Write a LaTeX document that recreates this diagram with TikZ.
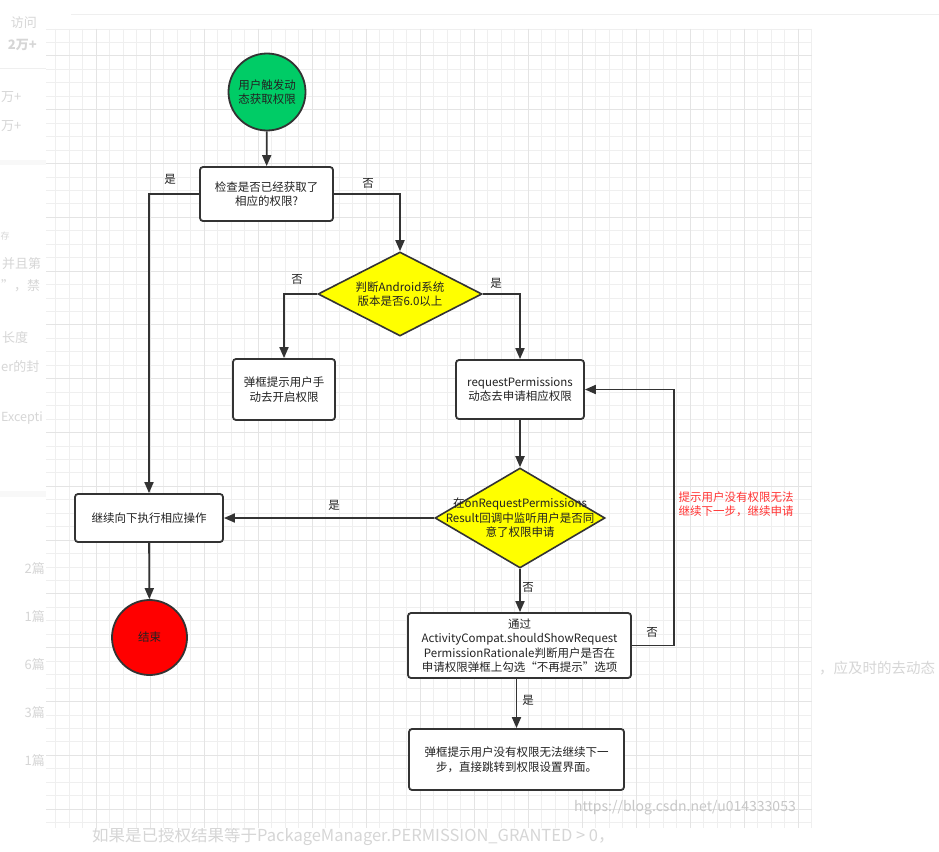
\documentclass[tikz,border=0pt]{standalone}
\usepackage{fontspec}
\setmainfont{Noto Sans CJK SC}
\usetikzlibrary{arrows.meta,shapes.geometric}
\definecolor{ink}{HTML}{333333}
\definecolor{txt}{HTML}{222222}
\definecolor{gmin}{HTML}{EFEFEF}
\definecolor{gmaj}{HTML}{E4E4E4}
\definecolor{startgreen}{HTML}{00CC66}
\definecolor{endred}{HTML}{FF0000}
\definecolor{diayellow}{HTML}{FFFF00}
\definecolor{notered}{HTML}{FF3333}
\definecolor{fadegray}{HTML}{D6D6D6}
\definecolor{bandgray}{HTML}{F8F8F8}
\begin{document}
\begin{tikzpicture}[x=1pt,y=-1pt,
  every node/.style={font=\fontsize{11.5}{14.5}\selectfont, text=txt, align=center, inner sep=0pt},
  boxsty/.style={draw=ink, line width=1.8pt, rounded corners=3pt, fill=white},
  circsty/.style={circle, draw=ink, line width=1.8pt},
  diamsty/.style={diamond, draw=ink, line width=1.6pt, fill=diayellow, inner sep=0pt},
  conn/.style={draw=ink, line width=1.8pt, -{Triangle[length=11pt,width=9pt]}},
  lbl/.style={font=\fontsize{11.5}{14}\selectfont, text=txt},
  fade/.style={font=\fontsize{13}{15}\selectfont, text=fadegray},
  gridminor/.style={draw=gmin, line width=0.9pt},
  gridmajor/.style={draw=gmaj, line width=1pt}]
\useasboundingbox (0,0) rectangle (939,851);
\fill[white] (0,0) rectangle (939,851);
% faded page elements
\draw[draw=gmin, line width=0.8pt] (71,14) -- (939,14);
\draw[draw=gmin, line width=0.8pt] (0,68) -- (46,68);
\fill[bandgray] (0,160) rectangle (46,165);
\fill[bandgray] (0,491) rectangle (46,497);
\node[fade, anchor=east] (s1) at (37,23) {访问};
\node[fade, anchor=east, font=\bfseries\fontsize{13}{15}\selectfont] (s2) at (37,45) {2万+};
\node[fade, anchor=west] (s3) at (1,97) {万+};
\node[fade, anchor=west] (s4) at (1,126) {万+};
\node[fade, anchor=west, font=\fontsize{9}{10}\selectfont] (s5) at (0.5,236) {存};
\node[fade, anchor=west] (s6) at (2,264) {并且第};
\node[fade, anchor=west] (s7) at (1,286) {”，禁};
\node[fade, anchor=west] (s8) at (2,338) {长度};
\node[fade, anchor=west] (s9) at (1,367) {er的封};
\node[fade, anchor=west, font=\fontsize{12.5}{15}\selectfont] (s10) at (1,418) {Excepti};
\node[fade, anchor=east] (n1) at (45,569) {2篇};
\node[fade, anchor=east] (n2) at (45,617) {1篇};
\node[fade, anchor=east] (n3) at (45,665) {6篇};
\node[fade, anchor=east] (n4) at (45,713) {3篇};
\node[fade, anchor=east] (n5) at (45,761) {1篇};
\node[fade, anchor=west, font=\fontsize{14.5}{16}\selectfont] (r1) at (819,668) {，应及时的去动态};
\node[fade, anchor=west, font=\fontsize{16.5}{18}\selectfont] (b1) at (92,837) {如果是已授权结果等于PackageManager.PERMISSION\_GRANTED > 0，};
% grid area
\fill[white] (46,29) rectangle (812,828);
\foreach \i in {0,...,56}{\draw[gridminor] ({55.5+13.5*\i},29) -- ({55.5+13.5*\i},828);}
\foreach \j in {0,...,59}{\draw[gridminor] (46,{29+13.45*\j}) -- (812,{29+13.45*\j});}
\foreach \i in {0,...,13}{\draw[gridmajor] ({96+54*\i},29) -- ({96+54*\i},828);}
\foreach \j in {0,...,14}{\draw[gridmajor] (46,{55.9+53.8*\j}) -- (812,{55.9+53.8*\j});}
% nodes
\node[circsty, fill=startgreen, minimum size=77pt] (start) at (267,92) {用户触发动\\态获取权限};
\node[boxsty, minimum width=133pt, minimum height=54pt] (check) at (266.5,194) {检查是否已经获取了\\相应的权限?};
\node[diamsty, minimum width=164pt, minimum height=84pt] (d1) at (400,294) {};
\node (d1t) at (d1.center) {判断Android系统\\版本是否6.0以上};
\node[boxsty, minimum width=102pt, minimum height=61pt] (manual) at (284,389.5) {弹框提示用户手\\动去开启权限};
\node[boxsty, minimum width=128pt, minimum height=59pt] (req) at (520,389.5) {requestPermissions\\动态去申请相应权限};
\node[diamsty, minimum width=170pt, minimum height=100pt] (d2) at (520,518) {};
\node (d2t) at (d2.center) {在onRequestPermissions\\Result回调中监听用户是否同\\意了权限申请};
\node[boxsty, minimum width=148pt, minimum height=48pt] (cont) at (149,518) {继续向下执行相应操作};
\node[circsty, fill=endred, minimum size=75pt] (end) at (149.5,637.5) {结束};
\node[boxsty, minimum width=223pt, minimum height=65pt] (rat) at (519.5,645.5) {通过\\ActivityCompat.shouldShowRequest\\PermissionRationale判断用户是否在\\申请权限弹框上勾选“不再提示”选项};
\node[boxsty, minimum width=215pt, minimum height=61pt] (fin) at (516.5,759.5) {弹框提示用户没有权限无法继续下一\\步，直接跳转到权限设置界面。};
% connectors
\draw[conn] (start) -- (check);
\draw[conn] (check.west) -| (cont.north);
\draw[conn] (check.east) -| (d1.north);
\draw[conn] (d1.west) -| (manual.north);
\draw[conn] (d1.east) -| (req.north);
\draw[conn] (req) -- (d2);
\draw[conn] (d2.west) -- (cont.east);
\draw[conn] (cont) -- (end);
\draw[conn] (d2.south) -- (rat.north -| d2.south);
\draw[conn] (rat.east) -- ++(42,0) |- (req.east);
\draw[conn] (rat.south -| fin.north) -- (fin.north);
% labels
\node[lbl] (l1) at (170,179) {是};
\node[lbl] (l2) at (368,183) {否};
\node[lbl] (l3) at (297,279) {否};
\node[lbl] (l4) at (496,283) {是};
\node[lbl] (l5) at (334,505) {是};
\node[lbl] (l6) at (528,587) {否};
\node[lbl] (l7) at (652,632) {否};
\node[lbl] (l8) at (528,700) {是};
\node[lbl, text=notered] (note) at (736,504.5) {提示用户没有权限无法\\继续下一步，继续申请};
\node[font=\fontsize{14}{16}\selectfont, text=black!22] (wm) at (685,808) {https://blog.csdn.net/u014333053};
\end{tikzpicture}
\end{document}
